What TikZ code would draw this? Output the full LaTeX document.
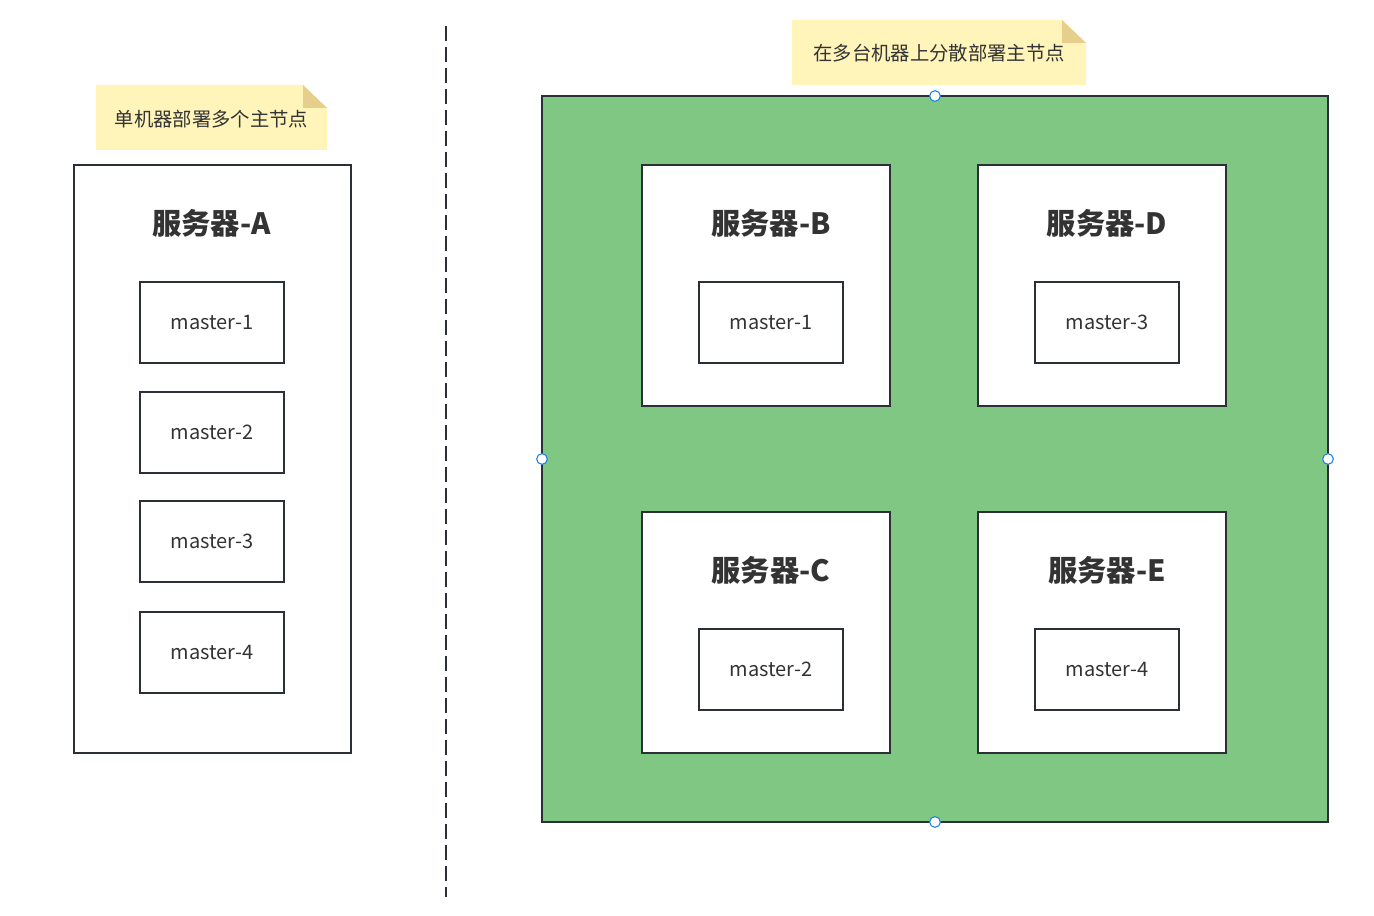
\documentclass[tikz,border=0pt]{standalone}
\usepackage{fontspec}
\setmainfont{Noto Sans CJK SC}
\begin{document}
\definecolor{edge}{HTML}{2B2F36}
\definecolor{txt}{HTML}{333333}
\definecolor{notefill}{HTML}{FFF4BA}
\definecolor{notefold}{HTML}{E6CF8C}
\definecolor{zone}{HTML}{80C783}
\definecolor{handle}{HTML}{1E80E6}
\begin{tikzpicture}[x=0.75pt,y=-0.75pt,
  box/.style={draw=edge,line width=2pt,fill=white},
  mbox/.style={box,minimum width=108pt,minimum height=60.75pt,inner sep=0pt,
    text=txt,font=\fontsize{15pt}{18pt}\selectfont},
  title/.style={text=txt,font=\fontsize{22pt}{25pt}\selectfont\bfseries},
  notetext/.style={text=txt,font=\fontsize{14.5pt}{17pt}\selectfont},
  grip/.style={circle,draw=handle,fill=white,line width=0.8pt,minimum size=8pt,inner sep=0pt}]
\useasboundingbox (0,0) rectangle (1374,916);

% sticky notes
\fill[notefill] (96,85) -- (303,85) -- (327,108) -- (327,150) -- (96,150) -- cycle;
\fill[notefold] (303,85) -- (327,108) -- (303,108) -- cycle;
\node[notetext] (noteA) at (211.5,119.5) {单机器部署多个主节点};
\fill[notefill] (792,20) -- (1062,20) -- (1086,43) -- (1086,85) -- (792,85) -- cycle;
\fill[notefold] (1062,20) -- (1086,43) -- (1062,43) -- cycle;
\node[notetext] (noteB) at (939,53.5) {在多台机器上分散部署主节点};

% divider
\coordinate (divtop) at (446,26);
\coordinate (divbot) at (446,897);
\draw[edge,line width=2.2pt,dash pattern=on 11.25pt off 4.5pt] (divtop) -- (divbot);

% single server
\draw[box] (74,165) rectangle (351,753);
\node[title] (tA) at (211.5,223) {服务器-A};
\node[mbox] (a1) at (212,322.5) {master-1};
\node[mbox] (a2) at (212,432.5) {master-2};
\node[mbox] (a3) at (212,541.5) {master-3};
\node[mbox] (a4) at (212,652.5) {master-4};

% cluster of servers
\draw[edge,line width=2pt,fill=zone] (542,96) rectangle (1328,822);
\foreach \x/\y/\n/\m in {642/165/B/1, 978/165/D/3, 642/512/C/2, 978/512/E/4}{
  \draw[box] (\x,\y) rectangle ++(248,241);
  \node[title] (t\n) at (\x+129,\y+58) {服务器-\n};
  \node[mbox] (m\n) at (\x+129,\y+157.5) {master-\m};
}

% selection grips
\node[grip] (gN) at (935,96) {};
\node[grip] (gW) at (542,459) {};
\node[grip] (gE) at (1328,459) {};
\node[grip] (gS) at (935,822) {};
\end{tikzpicture}
\end{document}
